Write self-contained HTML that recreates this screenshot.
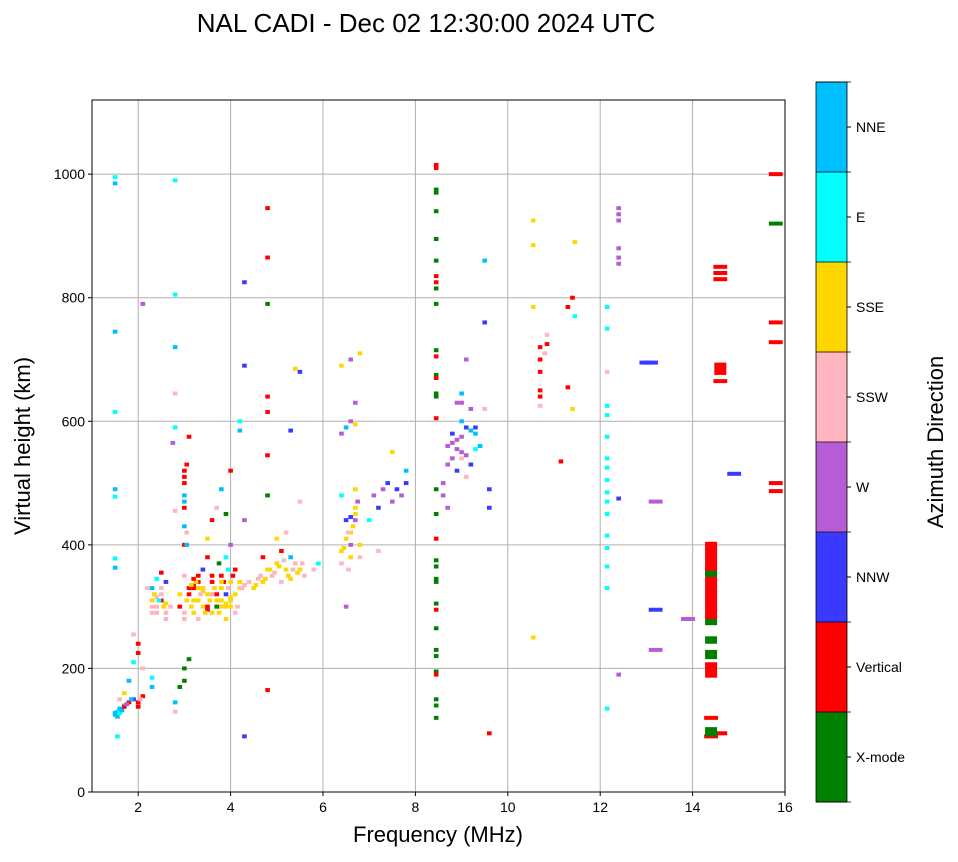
<!DOCTYPE html>
<html><head><meta charset="utf-8">
<style>
body{margin:0;background:#fff;}
svg text{font-family:"Liberation Sans","DejaVu Sans",sans-serif;}
</style></head>
<body>
<svg id="chart" width="958" height="857" viewBox="0 0 958 857" xmlns="http://www.w3.org/2000/svg">
<rect width="958" height="857" fill="#fff"/>
<text x="426" y="32" font-size="26" text-anchor="middle">NAL CADI - Dec 02 12:30:00 2024 UTC</text>
<g id="grid"></g>
<g id="marks"></g>
<rect x="92" y="100" width="693" height="692" fill="none" stroke="#000" stroke-width="1"/>
<g id="axes"></g>
<text x="438" y="842" font-size="22" text-anchor="middle">Frequency (MHz)</text>
<text transform="translate(30,446) rotate(-90)" font-size="22" text-anchor="middle">Virtual height (km)</text>
<g id="colorbar"></g>
<text transform="translate(943,442) rotate(-90)" font-size="22" text-anchor="middle">Azimuth Direction</text>
</svg>
<script>
const xTicks=[2,4,6,8,10,12,14,16];
const yTicks=[0,200,400,600,800,1000];
const dirNames=["X-mode","Vertical","NNW","W","SSW","SSE","E","NNE"];
const dirColors=["#008000","#ff0000","#3a3aff","#b65cd6","#ffb6c1","#ffd700","#00ffff","#00bfff"];
const freqs=[1.5,1.55,1.6,1.7,1.6,1.7,1.8,1.9,2.0,2.1,1.5,1.5,1.5,1.5,1.5,1.5,1.5,1.5,1.55,1.8,1.9,2.0,2.0,1.9,2.1,2.1,2.3,2.3,2.3,2.3,2.3,2.4,2.4,2.5,2.5,2.6,2.6,2.6,2.8,2.8,2.8,2.8,2.8,2.75,2.8,2.8,2.8,2.9,3.0,3.0,3.1,2.9,2.9,3.0,3.0,3.0,3.0,3.0,3.0,3.05,3.1,3.1,3.2,3.2,3.3,3.3,3.4,3.4,3.5,3.5,3.5,3.6,3.6,3.6,3.7,3.7,3.8,3.8,3.8,3.8,3.9,3.9,3.9,3.9,4.0,4.0,4.0,4.0,4.1,4.1,4.2,4.2,4.2,4.3,4.3,4.3,4.3,4.3,4.4,4.5,4.6,4.7,4.7,4.8,4.8,4.8,4.8,4.8,4.8,4.8,4.8,4.8,4.9,5.0,5.0,5.1,5.1,5.2,5.2,5.3,5.3,5.4,5.4,5.5,5.5,5.5,5.6,5.3,5.8,5.9,6.4,6.4,6.5,6.5,6.4,6.5,6.6,6.6,6.7,6.7,6.7,6.8,6.8,6.5,6.6,6.7,6.6,6.8,6.4,6.4,6.7,7.0,7.1,7.2,7.3,7.4,7.5,7.6,7.7,7.8,7.8,7.5,7.2,3.2,3.3,3.4,3.6,3.7,3.9,4.0,3.5,2.2,2.4,2.5,
1.5,1.55,1.6,1.65,1.7,1.75,1.85,2.0,2.05,2.3,2.35,2.4,2.45,2.5,2.55,2.6,2.7,3.0,3.05,3.1,3.15,3.2,3.25,3.3,3.35,3.4,3.45,3.5,3.55,3.6,3.65,3.7,3.75,3.8,3.85,3.9,3.95,4.0,4.05,4.1,4.15,4.2,4.25,4.4,4.55,4.65,4.75,4.85,4.95,5.05,5.15,5.25,5.35,5.45,5.55,3.0,3.0,3.0,3.0,3.05,3.05,3.6,3.7,3.8,3.75,3.95,4.0,3.2,3.3,3.15,6.45,6.55,6.6,6.65,6.7,6.75,6.6,6.55,
8.45,8.45,8.45,8.45,8.45,8.45,8.45,8.45,8.45,8.45,8.45,8.45,8.45,8.45,8.45,8.45,8.45,8.45,8.45,8.45,8.45,8.45,8.45,8.45,8.45,8.45,8.45,8.45,8.45,8.45,8.45,8.45,8.45,8.45,8.45,
8.7,8.8,8.8,8.9,8.9,9.0,9.0,9.0,9.0,9.1,9.1,9.1,9.2,9.3,9.3,9.4,9.5,8.6,8.6,8.7,8.9,9.2,9.6,9.6,9.5,9.5,9.6,8.8,8.9,9.0,9.0,9.1,9.2,9.3,8.7,
10.55,10.55,10.55,10.55,10.7,10.7,10.7,10.7,10.7,10.7,10.85,10.85,10.8,11.15,11.3,11.3,11.4,11.45,11.45,11.4,
12.15,12.15,12.15,12.15,12.15,12.15,12.15,12.15,12.15,12.15,12.15,12.15,12.15,12.15,12.15,12.15,12.15,
12.4,12.4,12.4,12.4,12.4,12.4,12.4,12.4,13.0,13.1,13.2,13.2,13.2,13.9,14.9,14.6,14.6,14.6,14.6,14.4,14.6,14.4,15.8,15.8,15.8,15.8,15.8,15.8];
const heights=[125,130,135,140,150,160,145,150,145,155,995,985,745,615,490,478,378,363,90,180,210,225,240,255,200,790,170,185,290,310,330,345,300,320,355,305,280,340,990,805,720,645,590,565,455,130,145,170,180,200,215,300,320,280,350,400,430,470,500,530,575,330,310,290,280,340,300,360,320,380,410,290,340,440,310,460,300,330,350,490,280,320,380,450,310,340,400,520,290,360,600,585,330,335,440,690,825,90,340,330,345,340,380,945,865,790,640,615,545,480,165,360,350,370,410,340,390,360,420,380,345,370,685,680,470,360,350,585,360,370,370,390,410,440,480,300,380,420,440,460,490,400,380,590,600,595,700,710,690,580,630,440,480,460,490,500,470,490,480,520,500,550,390,335,330,325,320,300,305,315,295,330,315,310,
128,122,128,132,138,142,150,138,150,300,320,290,310,330,300,290,300,290,310,320,300,330,340,310,320,330,290,300,310,320,330,300,290,310,340,300,330,310,350,320,300,340,330,340,335,350,345,360,355,365,375,350,360,355,370,460,480,510,520,400,420,350,320,340,370,360,300,345,350,335,395,420,400,430,450,470,445,360,
1015,1010,975,970,940,895,860,835,825,815,790,715,705,675,670,645,640,605,490,450,410,375,365,345,340,305,295,265,230,220,195,190,150,140,120,
560,540,580,570,520,550,600,630,645,510,590,700,620,580,555,560,620,480,500,460,630,530,490,460,860,760,95,565,555,575,540,545,585,590,530,
925,885,785,250,720,700,680,650,640,625,740,725,710,535,655,785,800,770,890,620,
785,750,680,625,610,575,540,525,505,485,470,450,415,395,365,330,135,
945,935,925,880,865,855,475,190,695,695,470,295,230,280,515,850,840,830,665,120,95,90,1000,920,760,728,500,487];
const dirs=[7,6,7,6,4,5,1,2,1,1,6,7,7,6,7,6,6,7,6,7,6,1,1,4,4,3,7,6,4,5,7,6,4,4,1,5,4,2,6,6,7,4,6,3,4,4,7,0,0,0,0,1,5,4,4,1,7,7,1,1,1,1,5,5,4,1,5,2,5,1,5,5,1,1,5,4,5,5,1,7,5,2,6,0,5,5,3,1,4,1,6,7,5,4,3,2,2,2,4,5,4,5,1,1,1,0,1,1,1,0,1,5,4,5,5,4,1,5,4,7,5,4,5,2,4,5,4,2,4,6,4,5,5,2,6,3,5,5,3,5,5,5,4,7,3,5,3,5,5,3,3,6,3,2,3,2,3,2,3,7,2,5,4,1,5,5,5,5,5,5,1,4,4,1,
7,7,6,7,1,3,7,1,4,4,5,4,6,4,5,4,4,4,5,1,5,1,5,5,4,5,5,1,5,4,5,0,5,5,1,5,4,5,1,5,4,5,4,4,5,4,5,5,4,5,4,5,4,5,4,1,7,1,1,7,4,1,1,5,0,6,5,1,1,5,5,4,3,5,5,3,2,4,
1,1,0,0,0,0,0,1,1,0,0,0,1,0,1,0,0,1,0,0,1,0,0,0,0,0,1,0,0,0,0,1,0,0,0,
3,3,2,3,2,3,7,3,7,4,2,3,3,7,6,7,4,3,3,3,3,2,2,2,7,2,1,3,3,3,4,3,7,2,3,
5,5,5,5,1,1,1,1,1,4,4,1,4,1,1,1,1,6,5,5,
6,6,4,6,6,6,6,6,6,6,6,6,6,6,6,6,6,
3,3,3,3,3,3,2,3,2,2,3,2,3,3,2,1,1,1,1,1,1,1,1,0,1,1,1,1];
const blockFreqs=[14.4,14.4,14.4,14.4,14.4,14.4,14.4,14.6];
const blockLows=[275,348,270,240,215,185,90,675];
const blockHighs=[405,358,280,252,230,210,105,695];
const blockDirs=[1,0,0,0,0,1,0,1];

const NS="http://www.w3.org/2000/svg";
const X0=92,X1=785,Y0=792,Y1=100;
const xs=f=>X0+(f-1)/15*(X1-X0);
const ys=h=>Y0-h/1120*(Y0-Y1);
function mk(tag,attrs,parent){const e=document.createElementNS(NS,tag);for(const k in attrs)e.setAttribute(k,attrs[k]);parent.appendChild(e);return e;}
const grid=document.getElementById('grid'),axes=document.getElementById('axes'),marks=document.getElementById('marks'),cb=document.getElementById('colorbar');
xTicks.forEach(t=>{const x=xs(t);
 const g=mk('line',{x1:x,x2:x,y1:Y1,y2:Y0,stroke:'#b0b0b0','stroke-width':1},grid);
 
 
 mk('line',{x1:x,x2:x,y1:Y0,y2:Y0+4,stroke:'#000'},axes);
 const tx=mk('text',{x:x,y:Y0+20,'font-size':14,'text-anchor':'middle'},axes);tx.textContent=t;
 
 
});
yTicks.forEach(t=>{const y=ys(t);
 const g=mk('line',{x1:X0,x2:X1,y1:y,y2:y,stroke:'#b0b0b0','stroke-width':1},grid);
 
 
 mk('line',{x1:X0-4,x2:X0,y1:y,y2:y,stroke:'#000'},axes);
 const tx=mk('text',{x:X0-7,y:y+5,'font-size':14,'text-anchor':'end'},axes);tx.textContent=t;
 
 
});
freqs.forEach((f,i)=>{const w=f>=12.9?0.3:0.1;const pw=xs(1+w)-X0;
 const r=mk('rect',{x:xs(f)-pw/2,y:ys(heights[i])-2,width:pw,height:4,fill:dirColors[dirs[i]]},marks);
 
 
});
blockFreqs.forEach((f,i)=>{const w=0.26;
 const r=mk('rect',{x:xs(f)-(xs(1+w)-X0)/2,y:ys(blockHighs[i]),width:xs(1+w)-X0,height:ys(blockLows[i])-ys(blockHighs[i]),fill:dirColors[blockDirs[i]]},marks);
 
 
});
const CX=816,CW=31,CT=82,CB=802,seg=(CB-CT)/dirNames.length;
dirNames.forEach((n,i)=>{const y=CB-(i+1)*seg;
 const r=mk('rect',{x:CX,y:y,width:CW,height:seg+0.5,fill:dirColors[i]},cb);
 
 
 mk('line',{x1:CX+CW,x2:CX+CW+4,y1:y+seg/2,y2:y+seg/2,stroke:'#000'},cb);
 const t=mk('text',{x:CX+CW+9,y:y+seg/2+5,'font-size':14},cb);t.textContent=n;
 
 
});
for(let i=0;i<=dirNames.length;i++){const y=CB-i*seg;mk('line',{x1:CX,x2:CX+CW+4,y1:y,y2:y,stroke:'#000','stroke-width':0.8},cb);}
mk('rect',{x:CX,y:CT,width:CW,height:CB-CT,fill:'none',stroke:'#000','stroke-width':0.8},cb);
</script>
</body></html>
